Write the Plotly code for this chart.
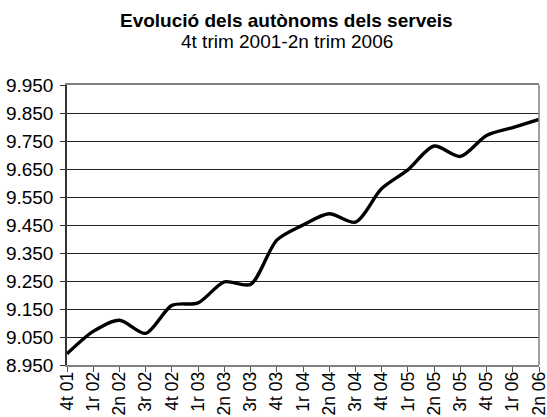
import plotly.graph_objects as go

quarters = ["4t 01", "1r 02", "2n 02", "3r 02", "4t 02", "1r 03", "2n 03", "3r 03",
            "4t 03", "1r 04", "2n 04", "3r 04", "4t 04", "1r 05", "2n 05", "3r 05",
            "4t 05", "1r 06", "2n 06"]
autonoms = [8990, 9070, 9110, 9063, 9163, 9172, 9247, 9238,
            9396, 9450, 9490, 9460, 9580, 9647, 9732, 9695,
            9770, 9798, 9827]
y_ticks = [8950, 9050, 9150, 9250, 9350, 9450, 9550, 9650, 9750, 9850, 9950]

font = "Liberation Sans, Arial, sans-serif"

fig = go.Figure()
fig.add_trace(go.Scatter(
    x=quarters, y=autonoms, mode="lines",
    line=dict(color="black", width=3.4, shape="spline", smoothing=0.8),
    hoverinfo="x+y", showlegend=False,
))

fig.update_layout(
    width=547, height=417,
    margin=dict(l=67, r=8, t=85, b=52),
    paper_bgcolor="white", plot_bgcolor="white",
    separators=",.",
    font=dict(family=font, size=19, color="black"),
    annotations=[
        dict(text="<b>Evolució dels autònoms dels serveis</b>", xref="paper", yref="paper",
             x=0.466, y=1, yshift=65, xanchor="center", yanchor="middle",
             showarrow=False, font=dict(family=font, size=19, color="black")),
        dict(text="4t trim 2001-2n trim 2006", xref="paper", yref="paper",
             x=0.466, y=1, yshift=44, xanchor="center", yanchor="middle",
             showarrow=False, font=dict(family=font, size=19, color="black")),
    ],
    shapes=[
        dict(type="line", xref="paper", yref="paper", x0=1, x1=1, y0=0, y1=1,
             line=dict(color="#808080", width=1.5)),
    ],
)

fig.update_xaxes(
    type="category", range=[0, len(quarters) - 1], automargin=False,
    tickangle=-90, ticks="outside", ticklen=5, tickcolor="#555",
    ticklabelstandoff=-7,
    showline=True, linecolor="#808080", linewidth=1.5, mirror=True,
    showgrid=False, tickfont=dict(family=font, size=17.5),
)
fig.update_yaxes(
    range=[8950, 9950], tickvals=y_ticks, tickformat=",d", automargin=False,
    ticks="outside", ticklen=5, tickcolor="#333", ticklabelstandoff=3,
    showline=True, linecolor="#333", linewidth=1.5,
    showgrid=True, gridcolor="#222", gridwidth=1,
    tickfont=dict(family=font, size=19), zeroline=False,
)

fig.write_html(
    "out.html",
    config={"displayModeBar": False},
    post_script="document.body.style.margin='0';document.body.style.overflow='hidden';",
)
